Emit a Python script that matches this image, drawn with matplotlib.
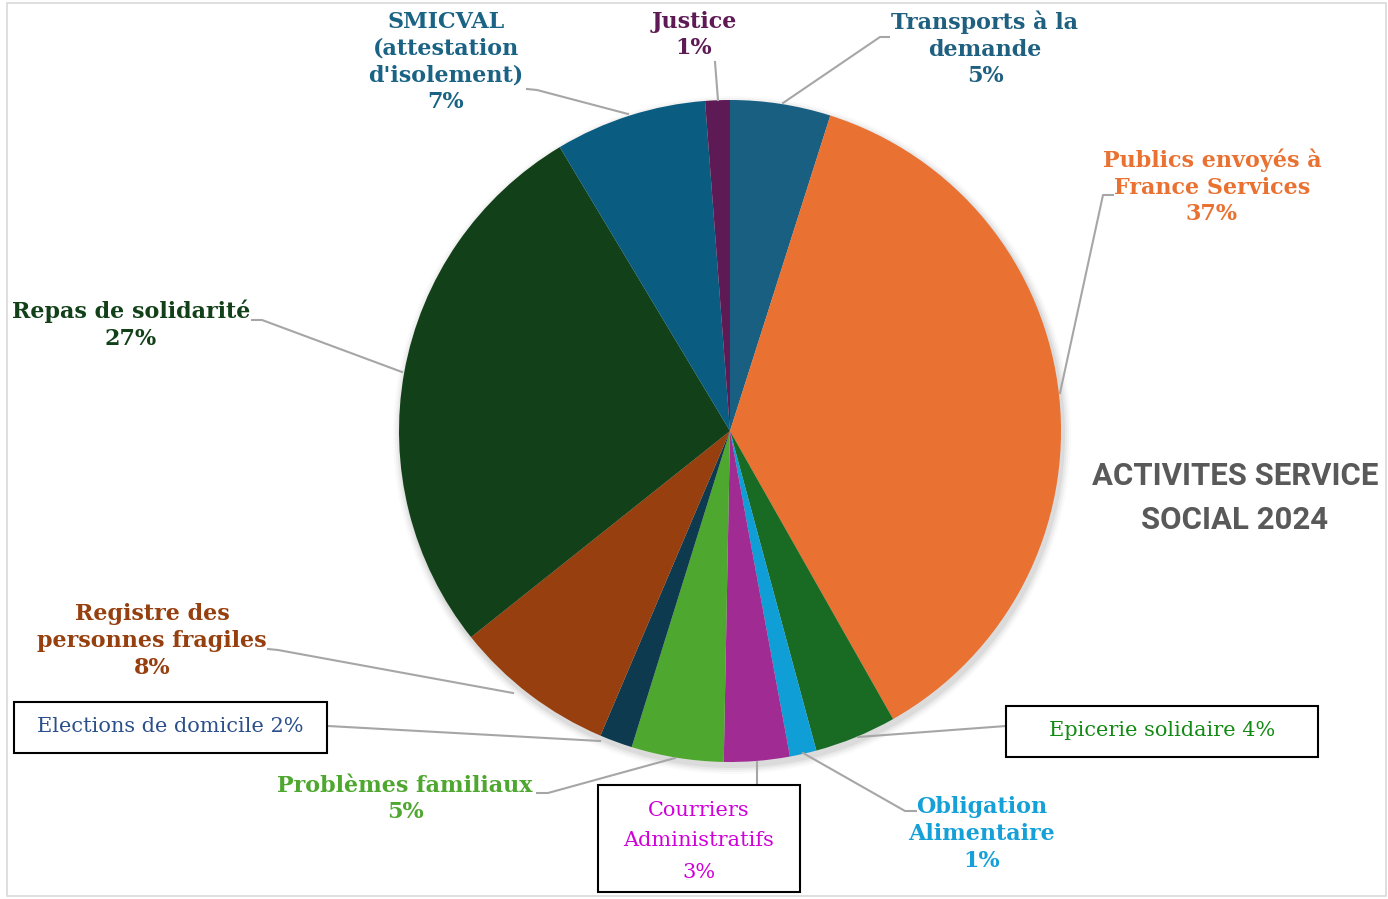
import matplotlib
matplotlib.use("Agg")
import matplotlib.pyplot as plt
from matplotlib.patches import Rectangle, Circle

# slices, clockwise from the top
categories = ["Transports à la\ndemande", "Publics envoyés à\nFrance Services", "Epicerie solidaire",
              "Obligation\nAlimentaire", "Courriers\nAdministratifs", "Problèmes familiaux",
              "Elections de domicile", "Registre des\npersonnes fragiles", "Repas de solidarité",
              "SMICVAL\n(attestation\nd'isolement)", "Justice"]
values = [4.9, 36.9, 4.0, 1.3, 3.2, 4.5, 1.6, 7.9, 27.1, 7.4, 1.2]
pct_labels = ["5%", "37%", "4%", "1%", "3%", "5%", "2%", "8%", "27%", "7%", "1%"]
slice_colors = ["#185f82", "#e97132", "#196b24", "#0f9ed5", "#a02b93", "#4ea72e",
                "#0d3a4e", "#973f0f", "#124018", "#0a5d80", "#5e1a54"]
text_colors = ["#1f5f80", "#e97132", "#138a13", "#16a0d8", "#d000d8", "#4ea72e",
               "#2a4f8a", "#963f0f", "#124018", "#1a6384", "#5e1a54"]

W, H = 1388, 899
fig = plt.figure(figsize=(W / 100, H / 100), dpi=100)
ax = fig.add_axes([0, 0, 1, 1])

cx, cy, r = 730, 431, 331
# soft shadow
for i, a in enumerate([0.05, 0.04, 0.03, 0.02]):
    ax.add_patch(Circle((cx + 2, cy + 4), r + 2 + i * 2, color="black", alpha=a, lw=0, zorder=1))

# y axis is inverted below, so counterclock=True ends up clockwise on screen
ax.pie(values, colors=slice_colors, startangle=-90, counterclock=True,
       center=(cx, cy), radius=r, wedgeprops=dict(linewidth=0, zorder=2), frame=True)
ax.set_xlim(0, W)
ax.set_ylim(H, 0)
ax.set_aspect("equal")
ax.axis("off")

# outer frame
ax.add_patch(Rectangle((7, 3), 1379, 893, fill=False, ec="#d9d9d9", lw=1.2))

serif = "DejaVu Serif"
# label geometry: (x, y, boxed)
label_pos = [(985, 49, False), (1212, 187, False), (1162, 731, True), (982, 834, False),
             (699, 841, True), (405, 799, False), (170, 727, True), (152, 641, False),
             (131, 325, False), (446, 62, False), (694, 35, False)]
leaders = [[(889, 37), (880, 37), (783, 103)],
           [(1113, 195), (1103, 195), (1060, 393)],
           [(1006, 726), (858, 737)],
           [(916, 811), (905, 811), (803, 753)],
           [(757, 785), (757, 762)],
           [(537, 793), (548, 793), (675, 758)],
           [(328, 726), (600, 741)],
           [(268, 649), (278, 650), (513, 693)],
           [(252, 320), (262, 320), (402, 372)],
           [(527, 89), (537, 90), (628, 114)],
           [(715, 62), (718, 100)]]

for pts in leaders:
    xs = [p[0] for p in pts]
    ys = [p[1] for p in pts]
    ax.plot(xs, ys, color="#a6a6a6", lw=1.5, zorder=3)

for cat, pct, col, (x, y, boxed) in zip(categories, pct_labels, text_colors, label_pos):
    if boxed:
        if "\n" in cat:
            txt = cat + "\n" + pct
        else:
            txt = cat + " " + pct
        ax.text(x, y, txt, color=col, fontsize=15, family=serif, ha="center", va="center",
                linespacing=1.8, zorder=4)
    else:
        ax.text(x, y, cat + "\n" + pct, color=col, fontsize=16, family=serif, weight="bold",
                ha="center", va="center", linespacing=1.27, zorder=4)

# boxes around the plain labels
ax.add_patch(Rectangle((14, 702), 313, 51, fill=False, ec="black", lw=1.5, zorder=4))
ax.add_patch(Rectangle((1006, 706), 312, 51, fill=False, ec="black", lw=1.5, zorder=4))
ax.add_patch(Rectangle((598, 785), 202, 107, fill=False, ec="black", lw=1.5, zorder=4))

ax.text(1235, 498, "ACTIVITES SERVICE\nSOCIAL 2024", color="#595959", fontsize=22.4,
        family="Roboto", weight="bold", ha="center", va="center", linespacing=1.6)

fig.savefig("out.png", dpi=100)
